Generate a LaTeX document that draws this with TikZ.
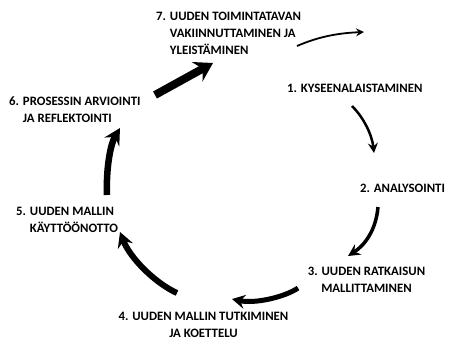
\documentclass[tikz,border=0pt]{standalone}
\usepackage{fontspec}
\setmainfont{Carlito}
\usetikzlibrary{arrows.meta}

\begin{document}
\begin{tikzpicture}[
    x=1pt, y=-1pt,
    phase/.style={inner sep=0pt, font=\bfseries\fontsize{12.8}{17}\selectfont},
    cyclearrow/.style n args={3}{-{Stealth[length=#2pt, width=#3pt, inset=0.35*#2pt]}, line width=#1pt, black}
]
\useasboundingbox (0,0) rectangle (455,341);

% Vaiheet kehan ympari
\node[phase, anchor=west, align=left] (p7) at (156,33) {7. UUDEN TOIMINTATAVAN\\\hphantom{7. }VAKIINNUTTAMINEN JA\\\hphantom{7. }YLEISTÄMINEN};
\node[phase, anchor=west] (p1) at (287,88) {1. KYSEENALAISTAMINEN};
\node[phase, anchor=west] (p2) at (360,188) {2. ANALYSOINTI};
\node[phase, align=center] (p3) at (366.5,279.5) {3. UUDEN RATKAISUN\\MALLITTAMINEN};
\node[phase, align=center] (p4) at (203.5,324.5) {4. UUDEN MALLIN TUTKIMINEN\\JA KOETTELU};
\node[phase, anchor=west, align=left] (p5) at (16,220) {5. UUDEN MALLIN\\\hphantom{5. }KÄYTTÖÖNOTTO};
\node[phase, anchor=west, align=left] (p6) at (9,109.5) {6. PROSESSIN ARVIOINTI\\\hphantom{6. }JA REFLEKTOINTI};

% Nuolten alku- ja loppupisteet
\coordinate (a7s) at (297,46);  \coordinate (a7e) at (364,32);
\coordinate (a1s) at (352,106); \coordinate (a1e) at (374,153);
\coordinate (a2s) at (378,207); \coordinate (a2e) at (348,256);
\coordinate (a3s) at (298,288); \coordinate (a3e) at (232,299);
\coordinate (a4s) at (177,293); \coordinate (a4e) at (120,232);
\coordinate (a5s) at (107,195); \coordinate (a5e) at (120,128);
\coordinate (a6s) at (155,95);  \coordinate (a6e) at (213,63);

% Nuolet, paksuus kasvaa kierroksen mukana
\draw[cyclearrow={1.8}{8}{8}] (a7s) .. controls (320,36) and (340,33) .. (a7e);
\draw[cyclearrow={2.5}{10}{10}] (a1s) .. controls (364,118) and (372,135) .. (a1e);
\draw[cyclearrow={3.5}{12}{12}] (a2s) .. controls (376,230) and (365,245) .. (a2e);
\draw[cyclearrow={5}{13}{14}] (a3s) .. controls (285,297) and (255,304) .. (a3e);
\draw[cyclearrow={6}{15}{16}] (a4s) .. controls (155,283) and (130,258) .. (a4e);
\draw[cyclearrow={6.5}{16}{17}] (a5s) .. controls (106,170) and (110,145) .. (a5e);
\draw[cyclearrow={8}{18}{22}] (a6s) -- (a6e);

\end{tikzpicture}
\end{document}
